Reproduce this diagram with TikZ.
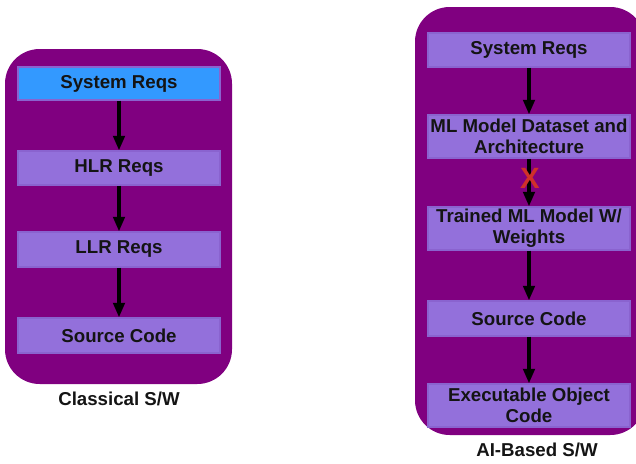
\documentclass[tikz,border=0pt]{standalone}
\usepackage{fontspec}
\setmainfont{Liberation Sans}
\usetikzlibrary{arrows.meta}
\definecolor{cont}{HTML}{800080}
\definecolor{boxfill}{HTML}{9370DB}
\definecolor{boxline}{HTML}{8A63CF}
\definecolor{bluefill}{HTML}{3399FF}
\definecolor{txt}{HTML}{141414}
\definecolor{xred}{HTML}{D0302A}
\tikzset{
  container/.style={fill=cont, draw=none, rounded corners=26pt},
  reqbox/.style={draw=boxline, line width=0.8pt, fill=boxfill, minimum width=151.5pt, inner sep=0pt, align=center, text=txt, font=\fontsize{14}{16}\selectfont\bfseries},
  flow/.style={-{Triangle[width=8.5pt,length=11pt]}, line width=2.7pt, black},
  caption/.style={text=txt, font=\fontsize{14}{16}\selectfont\bfseries}
}
\begin{document}
\begin{tikzpicture}[x=0.75pt,y=-0.75pt]
\useasboundingbox (0,0) rectangle (636,464);
\begin{scope}
\clip (0,0) rectangle (636,464);
% containers
\path[container] (5,49) rectangle (232,384);
\path[container] (415,7) rectangle (645,435);
\end{scope}
% left column
\node[reqbox, fill=bluefill, minimum height=24.75pt] (l1) at (119,83.5) {System Reqs};
\node[reqbox, minimum height=25.5pt] (l2) at (119,168) {HLR Reqs};
\node[reqbox, minimum height=26.25pt] (l3) at (119,249.5) {LLR Reqs};
\node[reqbox, minimum height=26.25pt] (l4) at (119,335.5) {Source Code};
\draw[flow] (l1) -- (l2);
\draw[flow] (l2) -- (l3);
\draw[flow] (l3) -- (l4);
\node[caption] (lc) at (119,399) {Classical S/W};
% right column
\node[reqbox, minimum height=25.5pt] (r1) at (529,50) {System Reqs};
\node[reqbox, minimum height=32.25pt] (r2) at (529,136.5) {ML Model Dataset and\\Architecture};
\node[reqbox, minimum height=32.25pt] (r3) at (529,228.5) {Trained ML Model W/\\Weights};
\node[reqbox, minimum height=26.25pt] (r4) at (529,318.5) {Source Code};
\node[reqbox, minimum height=32.25pt] (r5) at (529,405.5) {Executable Object\\Code};
\draw[flow] (r1) -- (r2);
\draw[flow] (r2) -- (r3);
\draw[flow] (r3) -- (r4);
\draw[flow] (r4) -- (r5);
\node[text=xred, font=\fontsize{22}{22}\selectfont\bfseries] (x) at (530,178.5) {X};
\node[caption] (rc) at (537,450) {AI-Based S/W};
\end{tikzpicture}
\end{document}
